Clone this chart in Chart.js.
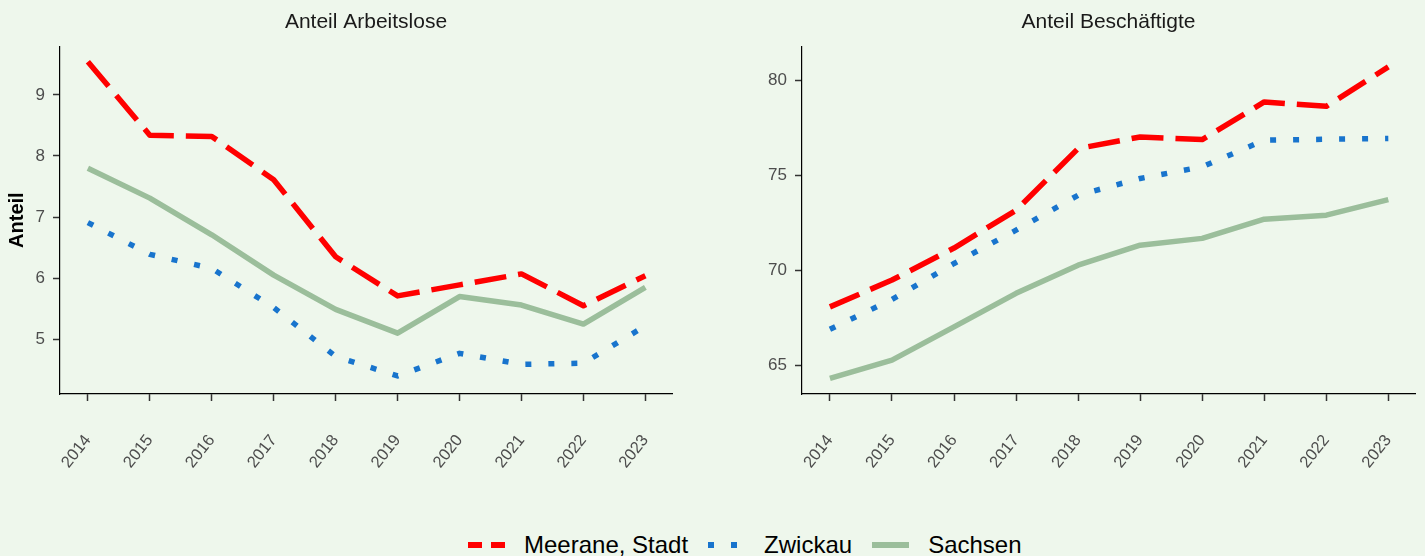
<!DOCTYPE html>
<html>
<head>
<meta charset="utf-8">
<script src="https://cdn.jsdelivr.net/npm/chart.js@4/dist/chart.umd.min.js"></script>
<style>
  body { margin: 0; background: #EEF7EC; width: 1425px; height: 556px; overflow: hidden; position: relative; font-family: "Liberation Sans", Arial, sans-serif; }
  .box { position: absolute; top: 0; height: 480px; }
  #legend { position: absolute; left: 468px; top: 527px; height: 36px; display: flex; align-items: center; font-size: 24px; color: #000; }
  #legend .key { width: 37px; height: 6px; position: relative; margin-right: 19px; }
  #legend .txt { margin-right: 20px; white-space: nowrap; }
</style>
</head>
<body>
<div class="box" style="left:0;width:700px"><canvas id="c1"></canvas></div>
<div class="box" style="left:700px;width:725px"><canvas id="c2"></canvas></div>
<div id="legend"></div>
<script>
const years = [2014, 2015, 2016, 2017, 2018, 2019, 2020, 2021, 2022, 2023];
const seriesNames = ["Meerane, Stadt", "Zwickau", "Sachsen"];
const seriesColors = ["#FF0000", "#1874CD", "#9BBE9B"];
const seriesDash = [[32, 12], [6, 17], []];

// Anteil Arbeitslose
const alMeerane = [9.54, 8.34, 8.32, 7.61, 6.35, 5.71, 5.89, 6.07, 5.55, 6.04];
const alZwickau = [6.91, 6.39, 6.16, 5.52, 4.72, 4.40, 4.77, 4.59, 4.61, 5.22];
const alSachsen = [7.80, 7.31, 6.71, 6.05, 5.49, 5.10, 5.70, 5.56, 5.25, 5.85];
const alTicks = [5, 6, 7, 8, 9];

// Anteil Beschäftigte
const beMeerane = [68.09, 69.5, 71.18, 73.17, 76.41, 77.02, 76.88, 78.86, 78.63, 80.70];
const beZwickau = [66.91, 68.48, 70.37, 72.12, 73.96, 74.84, 75.45, 76.85, 76.9, 76.94];
const beSachsen = [64.33, 65.29, 67.04, 68.8, 70.28, 71.33, 71.69, 72.7, 72.91, 73.73];
const beTicks = [65, 70, 75, 80];

function makeChart(id, title, values, yTicks, yMin, yMax, yWidth, padRight, yTitle) {
  const datasets = values.map((vals, i) => ({
    label: seriesNames[i],
    data: vals.map((v, j) => ({ x: years[j], y: v })),
    borderColor: seriesColors[i],
    borderDash: seriesDash[i],
    borderWidth: 5.5,
    borderJoinStyle: "round",
    pointRadius: 0,
    tension: 0,
    fill: false
  }));
  return new Chart(document.getElementById(id), {
    type: "line",
    data: { datasets },
    options: {
      responsive: true,
      maintainAspectRatio: false,
      animation: false,
      layout: { padding: { left: 0, right: padRight, top: 0, bottom: 0 } },
      plugins: {
        legend: { display: false },
        tooltip: { enabled: false },
        title: {
          display: true,
          fullSize: false, // center over the plot area like the original
          text: title,
          color: "#1A1A1A",
          font: { family: "Liberation Sans", size: 21, weight: "normal" },
          padding: { top: 10, bottom: 11 }
        }
      },
      scales: {
        x: {
          type: "linear",
          min: 2013.55,
          max: 2023.43,
          afterBuildTicks: s => { s.ticks = years.map(v => ({ value: v })); },
          afterFit: s => { s.height = 86; s.paddingLeft = 0; s.paddingRight = 0; },
          grid: { drawOnChartArea: false, drawTicks: true, tickLength: 7, tickColor: "#333333", tickWidth: 1.5 },
          border: { color: "#000000", width: 1.2 },
          ticks: {
            color: "#4D4D4D",
            font: { family: "Liberation Sans", size: 16.5 },
            minRotation: 52,
            maxRotation: 52,
            padding: 30,
            callback: v => String(v)
          }
        },
        y: {
          min: yMin,
          max: yMax,
          afterBuildTicks: s => { s.ticks = yTicks.map(v => ({ value: v })); },
          afterFit: s => { s.width = yWidth; },
          grid: { drawOnChartArea: false, drawTicks: true, tickLength: 7, tickColor: "#333333", tickWidth: 1.5 },
          border: { color: "#000000", width: 1.2 },
          ticks: {
            color: "#4D4D4D",
            font: { family: "Liberation Sans", size: 17 },
            padding: 8,
            callback: v => String(v)
          },
          title: {
            display: !!yTitle,
            text: yTitle,
            color: "#000000",
            font: { family: "Liberation Sans", size: 20, weight: "bold" },
            padding: { top: 5, bottom: 0 }
          }
        }
      }
    }
  });
}

makeChart("c1", "Anteil Arbeitslose", [alMeerane, alZwickau, alSachsen], alTicks, 4.105, 9.796, 60, 28, "Anteil");
makeChart("c2", "Anteil Beschäftigte", [beMeerane, beZwickau, beSachsen], beTicks, 63.51, 81.79, 102, 10, "");

// legend
const legend = document.getElementById("legend");
seriesNames.forEach((name, i) => {
  const key = document.createElement("div");
  key.className = "key";
  const c = seriesColors[i];
  if (i === 0) {
    key.innerHTML = `<span style="position:absolute;left:0;top:0;width:14px;height:6px;background:${c}"></span>
                     <span style="position:absolute;left:23px;top:0;width:14px;height:6px;background:${c}"></span>`;
  } else if (i === 1) {
    key.innerHTML = `<span style="position:absolute;left:0;top:0;width:6px;height:6px;background:${c}"></span>
                     <span style="position:absolute;left:23px;top:0;width:6px;height:6px;background:${c}"></span>`;
  } else {
    key.style.background = c;
  }
  const txt = document.createElement("span");
  txt.className = "txt";
  txt.textContent = name;
  legend.appendChild(key);
  legend.appendChild(txt);
});
</script>
</body>
</html>
